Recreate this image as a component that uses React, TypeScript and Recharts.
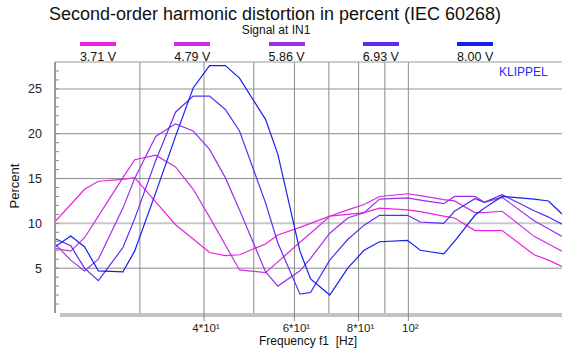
import { LineChart, Line, XAxis, YAxis, ReferenceLine } from 'recharts'

// frequency points (Hz), measurement grid of the analyzer
const FREQ = [20.5, 22.0, 23.4, 24.9, 27.8, 29.3, 32.2, 35.2, 38.1, 41.0, 44.0, 46.9, 52.7, 55.7, 61.5, 64.5,
  70.3, 76.2, 82.0, 87.9, 99.6, 105.5, 117.2, 123.0, 134.8, 140.6, 152.3, 175.8, 187.5, 199.2]

// second-order distortion in percent, one list per drive voltage
const V371 = [10.2, 12.1, 13.8, 14.7, 14.9, 15.1, 12.4, 9.85, 8.25, 6.75, 6.4, 6.5, 7.7, 8.7, 9.55, 10.0,
  10.8, 11.0, 11.2, 11.7, 11.5, 11.3, 10.8, 10.6, 9.2, 9.2, 9.2, 6.5, 5.9, 5.2]
const V479 = [7.2, 6.9, 8.4, 10.8, 15.1, 17.1, 17.6, 16.3, 13.8, 10.7, 7.6, 4.8, 4.5, 5.7, 7.9, 8.9,
  10.8, 11.5, 12.1, 13.0, 13.3, 13.1, 12.65, 12.5, 11.2, 11.2, 11.35, 8.55, 7.7, 6.9]
const V586 = [7.7, 5.9, 4.7, 6.0, 11.7, 15.0, 19.7, 21.1, 20.3, 18.25, 15.1, 11.5, 4.6, 3.0, 4.7, 6.1,
  8.9, 10.6, 11.2, 12.7, 12.85, 12.6, 12.2, 13.0, 13.0, 12.35, 12.9, 10.3, 9.4, 8.55]
const V693 = [8.3, 7.5, 5.0, 3.6, 7.3, 10.5, 17.0, 22.4, 24.2, 24.2, 22.7, 20.3, 12.3, 7.8, 2.1, 2.3,
  5.9, 8.2, 9.8, 10.9, 10.9, 10.15, 10.0, 11.35, 12.75, 12.35, 13.2, 11.4, 10.7, 9.9]
const V800 = [7.4, 8.6, 7.4, 4.7, 4.6, 6.9, 13.4, 19.7, 25.1, 27.6, 27.6, 26.2, 21.6, 17.7, 6.9, 3.8,
  2.0, 5.0, 7.0, 7.95, 8.1, 7.0, 6.6, 8.0, 10.9, 11.7, 13.0, 12.7, 12.5, 11.05]

const SERIES_KEYS = ['v371', 'v479', 'v586', 'v693', 'v800']
const SERIES_LABELS = ['3.71 V', '4.79 V', '5.86 V', '6.93 V', '8.00 V']
const SERIES_COLORS = ['#f020e0', '#cc2ee6', '#9a30ee', '#5a2cf0', '#1420f0']

const X_TICKS = [40, 60, 80, 100]
const X_TICK_LABELS = ['4*10¹', '6*10¹', '8*10¹', '10²']
const X_GRID = [30, 40, 50, 60, 70, 80, 90, 100]
const Y_TICKS = [1, 2, 3, 4, 5, 6, 7, 8, 9, 10, 11, 12, 13, 14, 15, 16, 17, 18, 19, 20, 21, 22, 23, 24, 25, 26, 27]
const Y_GRID = [5, 10, 15, 20, 25]

const data = FREQ.map((f, i) => ({
  f, v371: V371[i], v479: V479[i], v586: V586[i], v693: V693[i], v800: V800[i],
}))

const FONT = '"Liberation Sans", Arial, Helvetica, sans-serif'

function YTick(props: { x?: number; y?: number; payload?: { value: number } }) {
  const { x = 0, y = 0, payload } = props
  const v = payload?.value ?? 0
  return (
    <g>
      <line x1={x} x2={x + 4} y1={y} y2={y} stroke="#8a8a8a" />
      {v % 5 === 0 && (
        <text x={x - 13} y={y} dy={4.5} textAnchor="end" fontSize={12.5} fill="#222" fontFamily={FONT}>{v}</text>
      )}
    </g>
  )
}

function XTick(props: { x?: number; y?: number; payload?: { value: number } }) {
  const { x = 0, y = 0, payload } = props
  const i = X_TICKS.indexOf(payload?.value ?? -1)
  return (
    <text x={x + 2} y={y} dy={9} textAnchor="middle" fontSize={11.5} fill="#222" fontFamily={FONT}>
      {X_TICK_LABELS[i]}
    </text>
  )
}

export default function App() {
  return (
    <div style={{ position: 'absolute', left: 0, top: 0, width: 562, height: 348, background: '#fff', fontFamily: FONT, color: '#111' }}>
      {/* shaded bar under the plot */}
      <div style={{ position: 'absolute', left: 60, top: 313, width: 502, height: 4, background: '#c4c4c4' }} />

      <div style={{ position: 'absolute', left: 0, top: 0 }}>
        <LineChart width={562} height={348} data={data} margin={{ top: 62, right: 0, left: 0, bottom: 0 }}>
          <XAxis dataKey="f" type="number" scale="log" domain={[20.5, 199.2]} allowDataOverflow
            ticks={X_TICKS} height={35} axisLine={false} tickSize={8} tickMargin={2}
            tickLine={{ stroke: '#8a8a8a' }} tick={<XTick />} interval={0} />
          <YAxis type="number" domain={[0, 28]} ticks={Y_TICKS} width={55} interval={0}
            axisLine={{ stroke: '#9a9a9a', strokeWidth: 2 }} tickLine={false} tickSize={0} tickMargin={0}
            tick={<YTick />} />
          {Y_GRID.map(v => (
            <ReferenceLine key={'h' + v} y={v}
              stroke={v === 10 || v === 25 ? '#c8c8c8' : '#8c8c8c'}
              strokeWidth={v === 10 || v === 25 ? 2 : 1} />
          ))}
          {X_GRID.map(v => (
            <ReferenceLine key={'v' + v} x={v} stroke="#8c8c8c" />
          ))}
          <ReferenceLine y={28} stroke="#9a9a9a" />
          {SERIES_KEYS.map((k, i) => (
            <Line key={k} dataKey={k} type="linear" stroke={SERIES_COLORS[i]} strokeWidth={1.2}
              dot={false} isAnimationActive={false} />
          ))}
        </LineChart>
      </div>

      {/* titles */}
      <div style={{ position: 'absolute', left: 0, width: 550, top: 5, textAlign: 'center', fontSize: 18, lineHeight: '18px' }}>
        Second-order harmonic distortion in percent (IEC 60268)
      </div>
      <div style={{ position: 'absolute', left: 0, width: 552, top: 24, textAlign: 'center', fontSize: 12, lineHeight: '12px' }}>
        Signal at IN1
      </div>

      {/* legend */}
      {SERIES_LABELS.map((lab, i) => (
        <div key={lab} style={{ position: 'absolute', left: 98 + i * 94.3 - 30, width: 60, top: 42, textAlign: 'center' }}>
          <div style={{ margin: '0 auto', width: 36, height: 4, background: SERIES_COLORS[i] }} />
          <div style={{ fontSize: 12.5, marginTop: 4 }}>{lab}</div>
        </div>
      ))}

      <div style={{ position: 'absolute', left: 499, top: 65, fontSize: 12, color: '#2a2aff' }}>KLIPPEL</div>

      {/* axis titles */}
      <div style={{ position: 'absolute', left: 14, top: 186, fontSize: 13, transform: 'translate(-50%, -50%) rotate(-90deg)', whiteSpace: 'nowrap' }}>
        Percent
      </div>
      <div style={{ position: 'absolute', left: 208, width: 200, top: 335, textAlign: 'center', fontSize: 12, lineHeight: '12px', whiteSpace: 'pre' }}>
        {'Frequency f1  [Hz]'}
      </div>
    </div>
  )
}
